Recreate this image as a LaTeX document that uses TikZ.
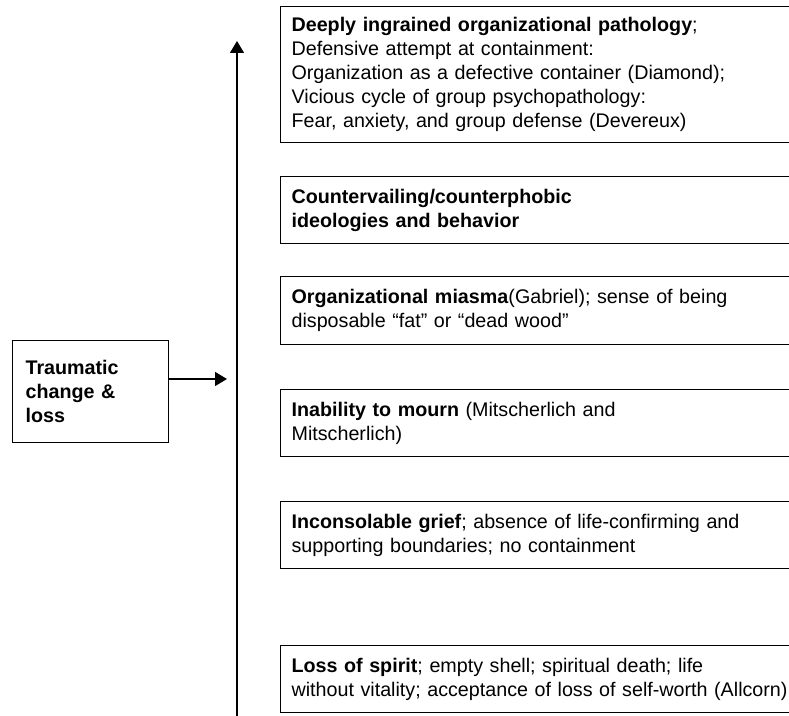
\documentclass[tikz,border=0pt]{standalone}
\usepackage{fontspec}
\setmainfont{Liberation Sans}
\usetikzlibrary{arrows.meta}

\begin{document}
\begin{tikzpicture}[x=0.5pt, y=-0.5pt,
        stage/.style={draw, line width=0.6pt, anchor=north west, align=left,
            text width=250pt, inner xsep=5.5pt, inner ysep=0pt,
            font=\fontsize{9.85}{12}\selectfont},
        tip/.style={-{Triangle[length=6pt, width=7pt]}, line width=0.6pt}]
    \useasboundingbox (0,0) rectangle (789,716);
    \clip (0,0) rectangle (789,716);

    % stages, top to bottom
    \node[stage, minimum height=68pt] (pathology) at (280,6)
        {\textbf{Deeply ingrained organizational pathology};\\
         Defensive attempt at containment:\\
         Organization as a defective container (Diamond);\\
         Vicious cycle of group psychopathology:\\
         Fear, anxiety, and group defense (Devereux)};
    \node[stage, minimum height=33.5pt] (counter) at (280,176)
        {\textbf{Countervailing/counterphobic}\\
         \textbf{ideologies and behavior}};
    \node[stage, minimum height=34pt] (miasma) at (280,276)
        {\textbf{Organizational miasma}(Gabriel); sense of being\\
         disposable “fat” or “dead wood”};
    \node[stage, minimum height=33.5pt] (mourn) at (280,389)
        {\textbf{Inability to mourn} (Mitscherlich and\\
         Mitscherlich)};
    \node[stage, minimum height=33.5pt] (grief) at (280,501)
        {\textbf{Inconsolable grief}; absence of life-confirming and\\
         supporting boundaries; no containment};
    \node[stage, minimum height=33.5pt] (spirit) at (280,645)
        {\textbf{Loss of spirit}; empty shell; spiritual death; life\\
         without vitality; acceptance of loss of self-worth (Allcorn)};

    % cause
    \node[draw, line width=0.6pt, anchor=north west, align=left,
        text width=65pt, inner xsep=6.5pt, minimum height=51pt,
        font=\fontsize{9.85}{12}\selectfont\bfseries] (trauma) at (12,340)
        {Traumatic\\change \&\\loss};

    % axis and arrow
    \coordinate (axisbottom) at (237,716);
    \coordinate (axistop) at (237,41);
    \coordinate (arrowend) at (227,379);
    \draw[tip] (axisbottom) -- (axistop);
    \draw[tip] (trauma.east |- arrowend) -- (arrowend);
\end{tikzpicture}
\end{document}
